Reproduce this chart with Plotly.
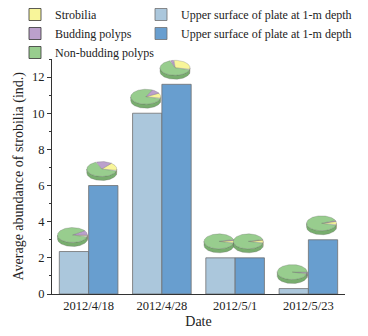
import numpy as np
import plotly.graph_objects as go

# ---------------- data ----------------
dates = ["2012/4/18", "2012/4/28", "2012/5/1", "2012/5/23"]
series_names = ["Upper surface of plate at 1-m depth", "Upper surface of plate at 1-m depth"]
light_values = [2.35, 10.0, 2.0, 0.3]
dark_values = [6.0, 11.6, 2.0, 3.0]
y_title = "Average abundance of strobilia (ind.)"
x_title = "Date"

pie_labels = ["Strobilia", "Budding polyps", "Non-budding polyps"]
# composition of each bar's pie (fractions): strobilia, budding, non-budding
light_strobilia = [0.03, 0.12, 0.06, 0.01]
light_budding = [0.11, 0.10, 0.02, 0.03]
light_nonbudding = [0.86, 0.78, 0.92, 0.96]
dark_strobilia = [0.18, 0.30, 0.07, 0.08]
dark_budding = [0.17, 0.04, 0.01, 0.02]
dark_nonbudding = [0.65, 0.66, 0.92, 0.90]

# ---------------- style ----------------
FONT = "Liberation Serif, Times New Roman, serif"
LIGHT = "#abc7dc"
DARK = "#689ecf"
PIE_TOP = ["#f8f59a", "#bba0cc", "#98cd8e"]
PIE_SIDE = ["#d8d47a", "#9a80ab", "#78ad6e"]
BAR_EDGE = "#707070"

W, H = 368, 336
ML, MR, MT, MB = 52, 23, 59, 42
X_RANGE = [-0.5, 3.5]
Y_RANGE = [0, 13]
px_x = (W - ML - MR) / (X_RANGE[1] - X_RANGE[0])
px_y = (H - MT - MB) / (Y_RANGE[1] - Y_RANGE[0])

BAR_W = 0.4
PIE_RX_PX = 15.0
PIE_RY_PX = 7.5
PIE_THICK_PX = 4.0
PIE_GAP_PX = 16.5
PIE_SHIFT_PX = -1.5
START_DEG = -15.0

fig = go.Figure()

x_idx = np.arange(len(dates))
fig.add_trace(go.Bar(x=x_idx, y=light_values, width=BAR_W, offset=-BAR_W,
                     marker=dict(color=LIGHT, line=dict(color=BAR_EDGE, width=0.8)),
                     name=series_names[0], legend="legend2"))
fig.add_trace(go.Bar(x=x_idx, y=dark_values, width=BAR_W, offset=0,
                     marker=dict(color=DARK, line=dict(color=BAR_EDGE, width=0.8)),
                     name=series_names[1], legend="legend2"))

# ---------- 3D-looking pies above each bar ----------
rx = PIE_RX_PX / px_x
ry = PIE_RY_PX / px_y
th = PIE_THICK_PX / px_y
gap = PIE_GAP_PX / px_y
sh = PIE_SHIFT_PX / px_x

pies = []
for i in range(len(dates)):
    pies.append((i - BAR_W / 2 + sh, light_values[i] + gap,
                 [light_strobilia[i], light_budding[i], light_nonbudding[i]]))
    pies.append((i + BAR_W / 2 + sh, dark_values[i] + gap,
                 [dark_strobilia[i], dark_budding[i], dark_nonbudding[i]]))

top_x = [[] for _ in pie_labels]
top_y = [[] for _ in pie_labels]
side_x = [[] for _ in pie_labels]
side_y = [[] for _ in pie_labels]

for cx, cy, fr in pies:
    tot = sum(fr)
    a = START_DEG
    for k, f in enumerate(fr):
        a1, a2 = a, a + 360.0 * f / tot
        a = a2
        # top face wedge
        t = np.radians(np.linspace(a1, a2, max(3, int(abs(a2 - a1)) + 2)))
        xs = [cx] + list(cx + rx * np.cos(t)) + [cx, None]
        ys = [cy] + list(cy + ry * np.sin(t)) + [cy, None]
        top_x[k] += xs
        top_y[k] += ys
        # visible side (front half)
        for lo, hi in [(-180.0, 0.0), (180.0, 360.0)]:
            b1, b2 = max(a1, lo), min(a2, hi)
            if b2 > b1:
                s = np.radians(np.linspace(b1, b2, max(3, int(b2 - b1) + 2)))
                xs = list(cx + rx * np.cos(s)) + list(cx + rx * np.cos(s[::-1])) + [cx + rx * np.cos(s[0]), None]
                ys = list(cy + ry * np.sin(s)) + list(cy - th + ry * np.sin(s[::-1])) + [cy + ry * np.sin(s[0]), None]
                side_x[k] += xs
                side_y[k] += ys

for k in range(len(pie_labels)):
    fig.add_trace(go.Scatter(x=side_x[k], y=side_y[k], mode="lines", fill="toself",
                             fillcolor=PIE_SIDE[k], line=dict(color="rgba(90,90,90,0.5)", width=0.5),
                             showlegend=False, hoverinfo="skip"))
for k in range(len(pie_labels)):
    fig.add_trace(go.Scatter(x=top_x[k], y=top_y[k], mode="lines", fill="toself",
                             fillcolor=PIE_TOP[k], line=dict(color="rgba(90,90,90,0.5)", width=0.5),
                             showlegend=False, hoverinfo="skip"))

# legend entries for pie segments
for k, lab in enumerate(pie_labels):
    fig.add_trace(go.Bar(x=[None], y=[None], name=lab, legend="legend",
                         marker=dict(color=PIE_TOP[k], line=dict(color="#333333", width=0.8))))

fig.update_layout(
    width=W, height=H,
    margin=dict(l=ML, r=MR, t=MT, b=MB, autoexpand=False),
    paper_bgcolor="white", plot_bgcolor="white",
    barmode="overlay",
    font=dict(family=FONT, size=13, color="#222222"),
    legend=dict(x=15 / W, y=1.0, xref="container", yref="container",
                xanchor="left", yanchor="top", bgcolor="rgba(0,0,0,0)",
                font=dict(family=FONT, size=12, color="#222222"),
                itemwidth=30, tracegroupgap=0, traceorder="normal"),
    legend2=dict(x=141 / W, y=1.0, xref="container", yref="container",
                 xanchor="left", yanchor="top", bgcolor="rgba(0,0,0,0)",
                 font=dict(family=FONT, size=12, color="#222222"),
                 itemwidth=30, tracegroupgap=0, traceorder="normal"),
    showlegend=True,
    annotations=[dict(text=y_title, textangle=-90, showarrow=False,
                      xref="paper", yref="paper", x=(18 - ML) / (W - ML - MR), y=0.5,
                      xanchor="center", yanchor="middle",
                      font=dict(family=FONT, size=14, color="#222222"))],
)

fig.update_xaxes(range=X_RANGE, tickvals=list(x_idx), ticktext=dates,
                 showline=True, linecolor="#333333", linewidth=1, ticks="",
                 showgrid=False, zeroline=False, automargin=True,
                 tickfont=dict(family=FONT, size=12.5, color="#222222"),
                 title=dict(text=x_title, font=dict(family=FONT, size=14, color="#222222"), standoff=4))
fig.update_yaxes(range=Y_RANGE, tickvals=[0, 2, 4, 6, 8, 10, 12],
                 showline=True, linecolor="#333333", linewidth=1,
                 ticks="outside", ticklen=4, tickcolor="#333333",
                 minor=dict(dtick=1, ticks="outside", ticklen=2, tickcolor="#333333", showgrid=False),
                 showgrid=False, zeroline=False,
                 tickfont=dict(family=FONT, size=12.5, color="#222222"))

fig.write_html("out.html", config={"displayModeBar": False},
               post_script="document.body.style.margin='0';document.body.style.overflow='hidden';")
